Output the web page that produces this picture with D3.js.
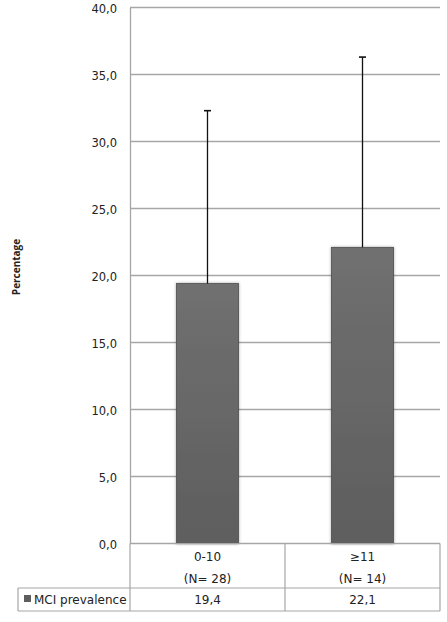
<!DOCTYPE html>
<html>
<head>
<meta charset="utf-8">
<script src="https://cdn.jsdelivr.net/npm/d3@7"></script>
<style>
  body { margin: 0; background: #fff; }
  svg text { font-family: "DejaVu Sans", Verdana, sans-serif; fill: #222; }
</style>
</head>
<body>
<svg id="chart" width="447" height="622"></svg>
<script>
// data
const categories = ["0-10", "≥11"];
const groupSizes = ["(N= 28)", "(N= 14)"];
const prevalence = [19.4, 22.1];
const errorUp = [12.9, 14.2];
const seriesName = "MCI prevalence";
const yTicks = [0, 5, 10, 15, 20, 25, 30, 35, 40];

const svg = d3.select("#chart");
const plotLeft = 130, plotRight = 440, plotTop = 7.5, plotBottom = 543.5;
const tableMid = 588, tableEnd = 611, legendLeft = 18;

const fmt = v => d3.format(".1f")(v).replace(".", ",");

const x = d3.scaleBand()
  .domain(categories)
  .range([plotLeft, plotRight])
  .paddingInner(0.6)
  .paddingOuter(0.3);
const band = d3.scaleBand().domain(categories).range([plotLeft, plotRight]);
const y = d3.scaleLinear().domain([0, 40]).range([plotBottom, plotTop]);

// gradient + shadow for bars
const defs = svg.append("defs");
const grad = defs.append("linearGradient").attr("id", "barGrad")
  .attr("x1", 0).attr("y1", 0).attr("x2", 0).attr("y2", 1);
grad.append("stop").attr("offset", "0%").attr("stop-color", "#707070");
grad.append("stop").attr("offset", "100%").attr("stop-color", "#5e5e5e");
const shadow = defs.append("filter").attr("id", "shadow")
  .attr("x", "-20%").attr("y", "-5%").attr("width", "140%").attr("height", "110%");
shadow.append("feDropShadow").attr("dx", 0).attr("dy", 0)
  .attr("stdDeviation", 1.8).attr("flood-color", "#000").attr("flood-opacity", 0.35);

// gridlines
svg.append("g")
  .selectAll("line")
  .data(yTicks)
  .join("line")
  .attr("x1", plotLeft).attr("x2", plotRight)
  .attr("y1", d => y(d)).attr("y2", d => y(d))
  .attr("stroke", "#a6a6a6").attr("stroke-width", 1.3);

// y axis
const yAxis = svg.append("g")
  .attr("transform", `translate(${plotLeft},0)`)
  .call(d3.axisLeft(y).tickValues(yTicks).tickFormat(fmt).tickSize(0).tickPadding(13));
yAxis.select(".domain").attr("stroke", "#a6a6a6").attr("stroke-width", 1.3);
yAxis.selectAll("text")
  .style("font-family", "DejaVu Sans, Verdana, sans-serif")
  .style("font-size", "11.5px").attr("fill", "#222")
  .attr("dy", "0.45em");

svg.append("text")
  .attr("transform", `translate(20,267) rotate(-90)`)
  .attr("text-anchor", "middle")
  .style("font-size", "10px").style("font-weight", "bold")
  .style("font-family", "Open Sans, Liberation Sans, Arial, sans-serif")
  .text("Percentage");

// bars
svg.append("g")
  .selectAll("rect")
  .data(prevalence)
  .join("rect")
  .attr("x", (d, i) => x(categories[i]))
  .attr("width", x.bandwidth())
  .attr("y", d => y(d))
  .attr("height", d => y(0) - y(d))
  .attr("fill", "url(#barGrad)")
  .attr("stroke", "#4e4e4e").attr("stroke-width", 0.8)
  .attr("filter", "url(#shadow)");

// error bars (upper only)
const err = svg.append("g");
prevalence.forEach((v, i) => {
  const cx = x(categories[i]) + x.bandwidth() / 2;
  err.append("line")
    .attr("x1", cx).attr("x2", cx)
    .attr("y1", y(v)).attr("y2", y(v + errorUp[i]))
    .attr("stroke", "#111").attr("stroke-width", 1.3);
  err.append("line")
    .attr("x1", cx - 3.5).attr("x2", cx + 3.5)
    .attr("y1", y(v + errorUp[i])).attr("y2", y(v + errorUp[i]))
    .attr("stroke", "#111").attr("stroke-width", 1.6);
});

// data table
const tbl = svg.append("g").attr("stroke", "#a6a6a6").attr("stroke-width", 1.2).attr("fill", "none");
tbl.append("line").attr("x1", plotLeft).attr("x2", plotRight).attr("y1", plotBottom).attr("y2", plotBottom);
tbl.append("line").attr("x1", legendLeft).attr("x2", plotRight).attr("y1", tableMid).attr("y2", tableMid);
tbl.append("line").attr("x1", legendLeft).attr("x2", plotRight).attr("y1", tableEnd).attr("y2", tableEnd);
tbl.append("line").attr("x1", legendLeft).attr("x2", legendLeft).attr("y1", tableMid).attr("y2", tableEnd);
tbl.append("line").attr("x1", plotLeft).attr("x2", plotLeft).attr("y1", plotBottom).attr("y2", tableEnd);
tbl.append("line").attr("x1", plotRight).attr("x2", plotRight).attr("y1", plotBottom).attr("y2", tableEnd);
categories.slice(1).forEach(c => {
  tbl.append("line").attr("x1", band(c)).attr("x2", band(c)).attr("y1", plotBottom).attr("y2", tableEnd);
});

const cells = svg.append("g").style("font-size", "12px").attr("text-anchor", "middle");
categories.forEach((c, i) => {
  const cx = band(c) + band.bandwidth() / 2;
  cells.append("text").attr("x", cx).attr("y", 561).text(c);
  cells.append("text").attr("x", cx).attr("y", 583).text(groupSizes[i]);
  cells.append("text").attr("x", cx).attr("y", 604).text(fmt(prevalence[i]));
});

svg.append("rect").attr("x", 24).attr("y", 595).attr("width", 7).attr("height", 7).attr("fill", "#5e5e5e");
svg.append("text").attr("x", 34).attr("y", 604).style("font-size", "12px").text(seriesName);
</script>
</body>
</html>
